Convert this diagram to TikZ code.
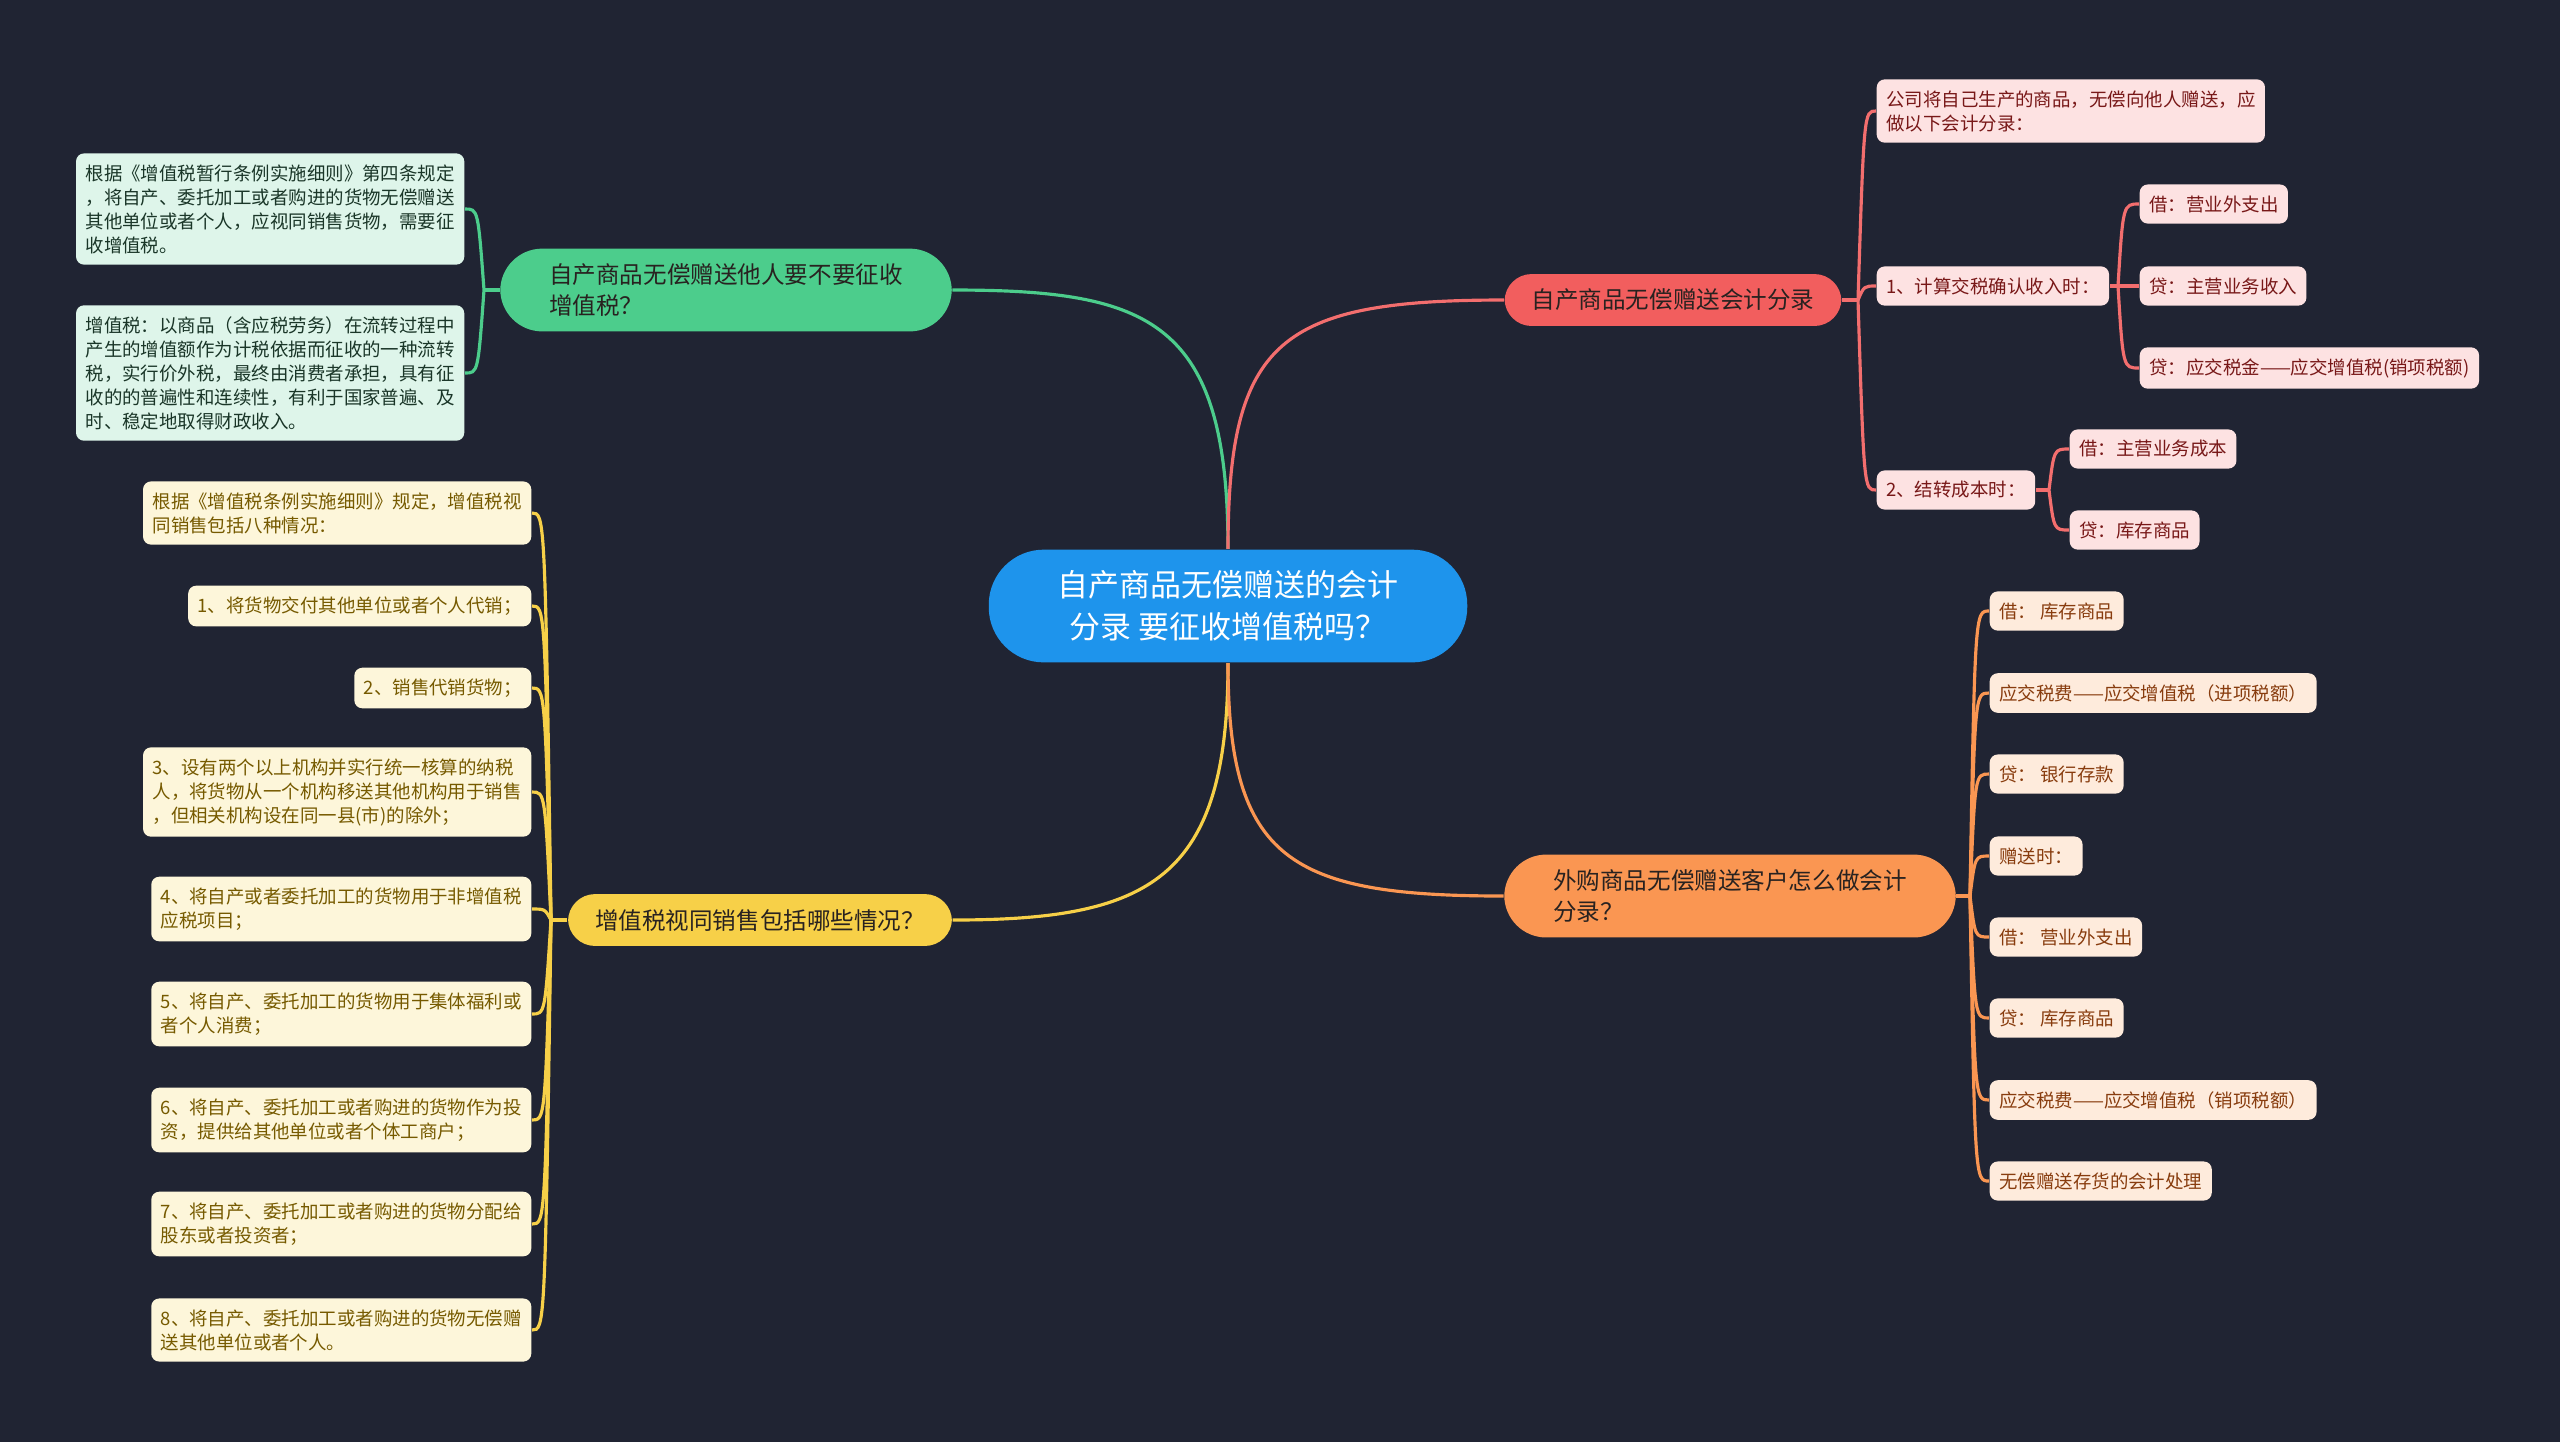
\documentclass[tikz,border=0pt]{standalone}
\usepackage{fontspec}
\setmainfont{Noto Sans CJK SC}
\usepackage{tikz}
\definecolor{bgdark}{RGB}{32,36,51}
\definecolor{rootblue}{RGB}{30,148,236}
\definecolor{grmain}{RGB}{76,205,140}
\definecolor{grleaf}{RGB}{222,245,234}
\definecolor{grtext}{RGB}{26,54,40}
\definecolor{rdmain}{RGB}{242,94,94}
\definecolor{rdleaf}{RGB}{253,226,226}
\definecolor{rdtext}{RGB}{120,24,24}
\definecolor{ylmain}{RGB}{247,208,72}
\definecolor{ylleaf}{RGB}{253,246,218}
\definecolor{yltext}{RGB}{118,90,0}
\definecolor{ormain}{RGB}{250,150,82}
\definecolor{orleaf}{RGB}{254,235,220}
\definecolor{ortext}{RGB}{136,60,14}
\definecolor{darktext}{RGB}{40,34,32}

\tikzset{
	leaf/.style={rounded corners=0.08cm, inner xsep=0.095cm, inner ysep=0.11cm, align=left, font=\fontsize{5.25}{6.83}\selectfont},
	gleaf/.style={leaf, fill=grleaf, text=grtext},
	rleaf/.style={leaf, fill=rdleaf, text=rdtext},
	yleaf/.style={leaf, fill=ylleaf, text=yltext},
	oleaf/.style={leaf, fill=orleaf, text=ortext},
	topic/.style={align=left, text=darktext, font=\fontsize{6.7}{8.8}\selectfont},
	topicone/.style={topic, rounded corners=0.27cm, inner xsep=0.27cm, inner ysep=0.15cm},
	topictwo/.style={topic, rounded corners=0.42cm, inner xsep=0.49cm, inner ysep=0.15cm},
	gline/.style={grmain, line width=0.9pt},
	rline/.style={rdmain!90!white, line width=0.9pt},
	yline/.style={ylmain, line width=0.9pt},
	oline/.style={ormain, line width=0.9pt}
}

\begin{document}
\begin{tikzpicture}[x=0.01cm, y=-0.01cm]
	\useasboundingbox (0,0) rectangle (2560,1441);
	\fill [bgdark] (-10,-10) rectangle (2570,1451);

	\node [fill=rootblue, text=white, rounded corners=0.55cm, inner xsep=0.69cm, inner ysep=0.21cm, align=center, font=\fontsize{8.8}{11.95}\selectfont] (root) at (1228,606) {自产商品无偿赠送的会计\\分录 要征收增值税吗？};

	\node [topictwo, fill=grmain] (gtax) at (726,290) {自产商品无偿赠送他人要不要征收\\增值税？};
	\node [topicone, fill=rdmain] (rentry) at (1673,300) {自产商品无偿赠送会计分录};
	\node [topicone, fill=ylmain] (ysale) at (760,920) {增值税视同销售包括哪些情况？};
	\node [topictwo, fill=ormain] (obuy) at (1730,896) {外购商品无偿赠送客户怎么做会计\\分录？};

	\node [gleaf, anchor=east] (g1) at (465,209) {根据《增值税暂行条例实施细则》第四条规定\\，将自产、委托加工或者购进的货物无偿赠送\\其他单位或者个人，应视同销售货物，需要征\\收增值税。};
	\node [gleaf, anchor=east] (g2) at (465,373) {增值税：以商品（含应税劳务）在流转过程中\\产生的增值额作为计税依据而征收的一种流转\\税，实行价外税，最终由消费者承担，具有征\\收的的普遍性和连续性，有利于国家普遍、及\\时、稳定地取得财政收入。};

	\node [yleaf, anchor=east] (y1) at (532,513) {根据《增值税条例实施细则》规定，增值税视\\同销售包括八种情况：};
	\node [yleaf, anchor=east] (y2) at (532,606) {1、将货物交付其他单位或者个人代销；};
	\node [yleaf, anchor=east] (y3) at (532,688) {2、销售代销货物；};
	\node [yleaf, anchor=east] (y4) at (532,792) {3、设有两个以上机构并实行统一核算的纳税\\人，将货物从一个机构移送其他机构用于销售\\，但相关机构设在同一县(市)的除外；};
	\node [yleaf, anchor=east] (y5) at (532,909) {4、将自产或者委托加工的货物用于非增值税\\应税项目；};
	\node [yleaf, anchor=east] (y6) at (532,1014) {5、将自产、委托加工的货物用于集体福利或\\者个人消费；};
	\node [yleaf, anchor=east] (y7) at (532,1120) {6、将自产、委托加工或者购进的货物作为投\\资，提供给其他单位或者个体工商户；};
	\node [yleaf, anchor=east] (y8) at (532,1224) {7、将自产、委托加工或者购进的货物分配给\\股东或者投资者；};
	\node [yleaf, anchor=east] (y9) at (532,1330) {8、将自产、委托加工或者购进的货物无偿赠\\送其他单位或者个人。};

	\node [rleaf, anchor=west] (r1) at (1876,111) {公司将自己生产的商品，无偿向他人赠送，应\\做以下会计分录：};
	\node [rleaf, anchor=west] (r2) at (1876,286) {1、计算交税确认收入时：};
	\node [rleaf, anchor=west] (r3) at (1876,490) {2、结转成本时：};
	\node [rleaf, anchor=west] (r2a) at (2139,204) {借：营业外支出};
	\node [rleaf, anchor=west] (r2b) at (2139,286) {贷：主营业务收入};
	\node [rleaf, anchor=west] (r2c) at (2139,368) {贷：应交税金——应交增值税(销项税额)};
	\node [rleaf, anchor=west] (r3a) at (2069,449) {借：主营业务成本};
	\node [rleaf, anchor=west] (r3b) at (2069,530) {贷：库存商品};

	\node [oleaf, anchor=west] (o1) at (1989,611) {借：\ 库存商品};
	\node [oleaf, anchor=west] (o2) at (1989,693) {应交税费——应交增值税（进项税额）};
	\node [oleaf, anchor=west] (o3) at (1989,774) {贷：\ 银行存款};
	\node [oleaf, anchor=west] (o4) at (1989,856) {赠送时：};
	\node [oleaf, anchor=west] (o5) at (1989,937) {借：\ 营业外支出};
	\node [oleaf, anchor=west] (o6) at (1989,1018) {贷：\ 库存商品};
	\node [oleaf, anchor=west] (o7) at (1989,1100) {应交税费——应交增值税（销项税额）};
	\node [oleaf, anchor=west] (o8) at (1989,1181) {无偿赠送存货的会计处理};

	\coordinate (gfork) at (484,290);
	\coordinate (gtrunk) at (478,290);
	\coordinate (yfork) at (551,920);
	\coordinate (ytrunk) at (545,920);
	\coordinate (rfork) at (1858,300);
	\coordinate (rtrunk) at (1864,300);
	\coordinate (r2fork) at (2118,286);
	\coordinate (r2trunk) at (2123,286);
	\coordinate (r3fork) at (2049,490);
	\coordinate (r3trunk) at (2054,490);
	\coordinate (ofork) at (1970,896);
	\coordinate (otrunk) at (1975,896);

	\draw [gline] (root.north) .. controls (1228,320) and (1150,290) .. (gtax.east);
	\draw [rline] (root.north) .. controls (1228,340) and (1280,300) .. (rentry.west);
	\draw [yline] (root.south) .. controls (1228,880) and (1150,920) .. (ysale.east);
	\draw [oline] (root.south) .. controls (1228,860) and (1290,896) .. (obuy.west);

	\draw [gline] (gtax.west) -- (gfork);
	\draw [gline] (gfork) .. controls (gtrunk |- g1.east) .. (g1.east);
	\draw [gline] (gfork) .. controls (gtrunk |- g2.east) .. (g2.east);

	\draw [yline] (ysale.west) -- (yfork);
	\draw [yline] (yfork) .. controls (ytrunk |- y1.east) .. (y1.east);
	\draw [yline] (yfork) .. controls (ytrunk |- y2.east) .. (y2.east);
	\draw [yline] (yfork) .. controls (ytrunk |- y3.east) .. (y3.east);
	\draw [yline] (yfork) .. controls (ytrunk |- y4.east) .. (y4.east);
	\draw [yline] (yfork) .. controls (ytrunk |- y5.east) .. (y5.east);
	\draw [yline] (yfork) .. controls (ytrunk |- y6.east) .. (y6.east);
	\draw [yline] (yfork) .. controls (ytrunk |- y7.east) .. (y7.east);
	\draw [yline] (yfork) .. controls (ytrunk |- y8.east) .. (y8.east);
	\draw [yline] (yfork) .. controls (ytrunk |- y9.east) .. (y9.east);

	\draw [rline] (rentry.east) -- (rfork);
	\draw [rline] (rfork) .. controls (rtrunk |- r1.west) .. (r1.west);
	\draw [rline] (rfork) .. controls (rtrunk |- r2.west) .. (r2.west);
	\draw [rline] (rfork) .. controls (rtrunk |- r3.west) .. (r3.west);
	\draw [rline] (r2.east) -- (r2fork);
	\draw [rline] (r2fork) .. controls (r2trunk |- r2a.west) .. (r2a.west);
	\draw [rline] (r2fork) -- (r2b.west);
	\draw [rline] (r2fork) .. controls (r2trunk |- r2c.west) .. (r2c.west);
	\draw [rline] (r3.east) -- (r3fork);
	\draw [rline] (r3fork) .. controls (r3trunk |- r3a.west) .. (r3a.west);
	\draw [rline] (r3fork) .. controls (r3trunk |- r3b.west) .. (r3b.west);

	\draw [oline] (obuy.east) -- (ofork);
	\draw [oline] (ofork) .. controls (otrunk |- o1.west) .. (o1.west);
	\draw [oline] (ofork) .. controls (otrunk |- o2.west) .. (o2.west);
	\draw [oline] (ofork) .. controls (otrunk |- o3.west) .. (o3.west);
	\draw [oline] (ofork) .. controls (otrunk |- o4.west) .. (o4.west);
	\draw [oline] (ofork) .. controls (otrunk |- o5.west) .. (o5.west);
	\draw [oline] (ofork) .. controls (otrunk |- o6.west) .. (o6.west);
	\draw [oline] (ofork) .. controls (otrunk |- o7.west) .. (o7.west);
	\draw [oline] (ofork) .. controls (otrunk |- o8.west) .. (o8.west);
\end{tikzpicture}
\end{document}
